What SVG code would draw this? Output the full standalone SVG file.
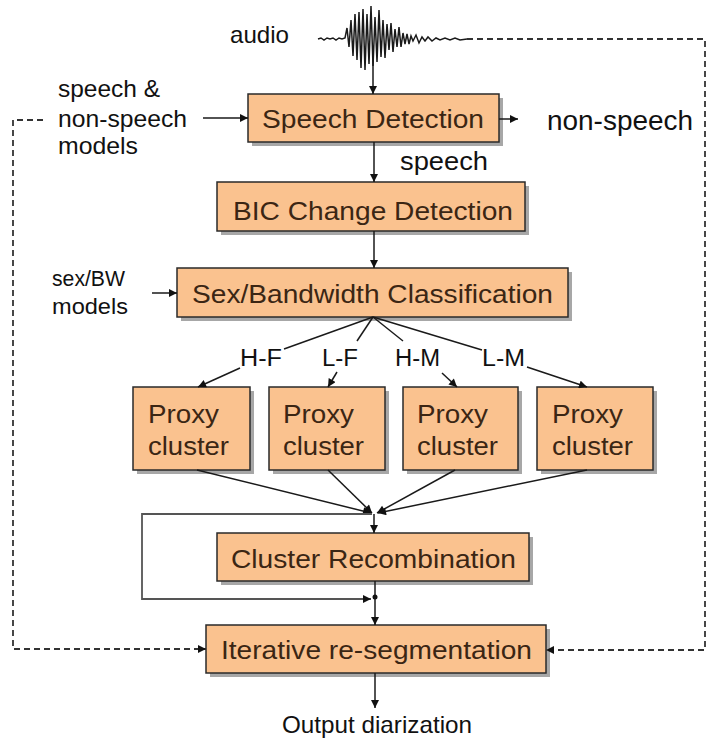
<svg xmlns="http://www.w3.org/2000/svg" width="710" height="744" viewBox="0 0 710 744">
<style>
.box{fill:#fac28f;stroke:#2a2a2a;stroke-width:1.5}
.sh{fill:#8a8a8a;opacity:0.75}
.bt{font-family:"Liberation Sans",Arial,sans-serif;font-size:26px;fill:#3b2614}
.ot{font-family:"Liberation Sans",Arial,sans-serif;fill:#111}
.ln{fill:none;stroke:#1a1a1a;stroke-width:1.5}
.gl{fill:none;stroke:#555;stroke-width:1.8}
.ds{fill:none;stroke:#333;stroke-width:1.8;stroke-dasharray:6 4}
</style>
<defs>
<marker id="ah" viewBox="0 0 10 10" refX="10" refY="5" markerWidth="9" markerHeight="8" markerUnits="userSpaceOnUse" orient="auto">
<path d="M0,0 L10,5 L0,10 z" fill="#111"/>
</marker>
</defs>
<rect width="710" height="744" fill="#fff"/>

<g id="audio">
<text class="ot" x="230" y="43" font-size="24" textLength="59" lengthAdjust="spacingAndGlyphs">audio</text>
<path class="ln" stroke-width="1.3" d="M318,39 l3,-1 3,2 3,-2 3,1 3,-1 3,2 3,-2 3,1 3,-1 L347,28 349,47 351,20 353,56 355,14 357,60 359,12 361,68 363,9 365,70 367,14 369,64 371,6 373,66 375,17 377,62 379,10 381,57 383,20 385,58 387,24 389,50 391,23 393,52 395,29 397,47 399,27 401,47 403,33 405,44 407,34 409,44 411,36 413,41 416,35 419,43 422,37 425,41 428,37 432,41 436,38 440,40 445,38 450,40 455,38 460,40 467,39"/>
</g>

<g id="speech-models">
<text class="ot" font-size="24"><tspan x="58" y="97" textLength="102" lengthAdjust="spacingAndGlyphs">speech &amp;</tspan><tspan x="58" y="127" textLength="129" lengthAdjust="spacingAndGlyphs">non-speech</tspan><tspan x="58" y="154" textLength="80" lengthAdjust="spacingAndGlyphs">models</tspan></text>
</g>

<g id="sexbw-models">
<text class="ot" font-size="22"><tspan x="52" y="286" textLength="73" lengthAdjust="spacingAndGlyphs">sex/BW</tspan><tspan x="52" y="314" textLength="76" lengthAdjust="spacingAndGlyphs">models</tspan></text>
</g>

<g id="non-speech-label">
<text class="ot" x="547" y="130" font-size="28" textLength="146" lengthAdjust="spacingAndGlyphs">non-speech</text>
</g>
<g id="speech-label">
<text class="ot" x="400" y="170" font-size="25" textLength="88" lengthAdjust="spacingAndGlyphs">speech</text>
</g>

<g id="speech-detection">
<rect class="sh" x="252" y="98" width="251" height="48"/>
<rect class="box" x="248" y="94" width="251" height="48"/>
<text class="bt" x="262" y="128" textLength="222" lengthAdjust="spacingAndGlyphs">Speech Detection</text>
</g>

<g id="bic">
<rect class="sh" x="221" y="186" width="308" height="49"/>
<rect class="box" x="217" y="182" width="308" height="49"/>
<text class="bt" x="233" y="220" textLength="280" lengthAdjust="spacingAndGlyphs">BIC Change Detection</text>
</g>

<g id="sexbw">
<rect class="sh" x="181" y="272" width="391" height="49"/>
<rect class="box" x="177" y="268" width="391" height="49"/>
<text class="bt" x="192" y="303" textLength="361" lengthAdjust="spacingAndGlyphs">Sex/Bandwidth Classification</text>
</g>

<g id="proxy-hf">
<rect class="sh" x="137" y="391" width="117" height="83"/>
<rect class="box" x="133" y="387" width="117" height="83"/>
<text class="bt" font-size="27"><tspan x="148" y="423" textLength="71" lengthAdjust="spacingAndGlyphs">Proxy</tspan><tspan x="148" y="455" textLength="81" lengthAdjust="spacingAndGlyphs">cluster</tspan></text>
</g>
<g id="proxy-lf">
<rect class="sh" x="273" y="391" width="116" height="83"/>
<rect class="box" x="269" y="387" width="116" height="83"/>
<text class="bt" font-size="27"><tspan x="283" y="423" textLength="71" lengthAdjust="spacingAndGlyphs">Proxy</tspan><tspan x="283" y="455" textLength="81" lengthAdjust="spacingAndGlyphs">cluster</tspan></text>
</g>
<g id="proxy-hm">
<rect class="sh" x="407" y="391" width="115" height="83"/>
<rect class="box" x="403" y="387" width="115" height="83"/>
<text class="bt" font-size="27"><tspan x="417" y="423" textLength="71" lengthAdjust="spacingAndGlyphs">Proxy</tspan><tspan x="417" y="455" textLength="81" lengthAdjust="spacingAndGlyphs">cluster</tspan></text>
</g>
<g id="proxy-lm">
<rect class="sh" x="541" y="391" width="116" height="83"/>
<rect class="box" x="537" y="387" width="116" height="83"/>
<text class="bt" font-size="27"><tspan x="552" y="423" textLength="71" lengthAdjust="spacingAndGlyphs">Proxy</tspan><tspan x="552" y="455" textLength="81" lengthAdjust="spacingAndGlyphs">cluster</tspan></text>
</g>

<g id="cluster-recombination">
<rect class="sh" x="221" y="537" width="312" height="48"/>
<rect class="box" x="217" y="533" width="312" height="48"/>
<text class="bt" x="231" y="568" textLength="285" lengthAdjust="spacingAndGlyphs">Cluster Recombination</text>
</g>

<g id="iterative">
<rect class="sh" x="210" y="629" width="340" height="48"/>
<rect class="box" x="206" y="625" width="340" height="48"/>
<text class="bt" x="221" y="659" textLength="311" lengthAdjust="spacingAndGlyphs">Iterative re-segmentation</text>
</g>

<g id="output">
<text class="ot" x="282" y="733" font-size="24" textLength="190" lengthAdjust="spacingAndGlyphs">Output diarization</text>
</g>

<g id="branch-labels" class="ot" font-size="23">
<text x="240" y="366" textLength="42" lengthAdjust="spacingAndGlyphs">H-F</text>
<text x="322" y="366" textLength="36" lengthAdjust="spacingAndGlyphs">L-F</text>
<text x="395" y="366" textLength="45" lengthAdjust="spacingAndGlyphs">H-M</text>
<text x="482" y="366" textLength="43" lengthAdjust="spacingAndGlyphs">L-M</text>
</g>

<g id="connectors">
<line class="ln" x1="373" y1="50" x2="373" y2="94" marker-end="url(#ah)"/>
<line class="ln" x1="203" y1="118" x2="248" y2="118" marker-end="url(#ah)"/>
<line class="ln" x1="499" y1="119" x2="518" y2="119" marker-end="url(#ah)"/>
<line class="ln" x1="374" y1="142" x2="374" y2="182" marker-end="url(#ah)"/>
<line class="ln" x1="374" y1="231" x2="374" y2="268" marker-end="url(#ah)"/>
<line class="ln" x1="152" y1="293" x2="177" y2="293" marker-end="url(#ah)"/>
<line class="ln" x1="373" y1="317" x2="284" y2="349"/>
<line class="ln" x1="240" y1="368" x2="198" y2="387" marker-end="url(#ah)"/>
<line class="ln" x1="373" y1="317" x2="357" y2="341"/>
<line class="ln" x1="337" y1="372" x2="328" y2="387" marker-end="url(#ah)"/>
<line class="ln" x1="373" y1="317" x2="403" y2="341"/>
<line class="ln" x1="442" y1="373" x2="457" y2="387" marker-end="url(#ah)"/>
<line class="ln" x1="373" y1="317" x2="482" y2="350"/>
<line class="ln" x1="527" y1="367" x2="587" y2="387" marker-end="url(#ah)"/>
<line class="ln" x1="197" y1="470" x2="371" y2="513" marker-end="url(#ah)"/>
<line class="ln" x1="328" y1="470" x2="372" y2="513" marker-end="url(#ah)"/>
<line class="ln" x1="455" y1="470" x2="377" y2="513" marker-end="url(#ah)"/>
<line class="ln" x1="587" y1="470" x2="378" y2="513" marker-end="url(#ah)"/>
<line class="ln" x1="374" y1="514" x2="374" y2="533" marker-end="url(#ah)"/>
<polyline class="gl" points="372,514 142,514 142,599 371,599" marker-end="url(#ah)"/>
<line class="ln" x1="375" y1="581" x2="375" y2="625" marker-end="url(#ah)"/>
<circle cx="375" cy="597" r="2.5" fill="#111"/>
<line class="ln" x1="375" y1="673" x2="375" y2="708" marker-end="url(#ah)"/>
<polyline class="ds" points="43,120 13,120 13,649 206,649" marker-end="url(#ah)"/>
<polyline class="ds" points="467,39 705,39 705,650 546,650" marker-end="url(#ah)"/>
</g>
</svg>
